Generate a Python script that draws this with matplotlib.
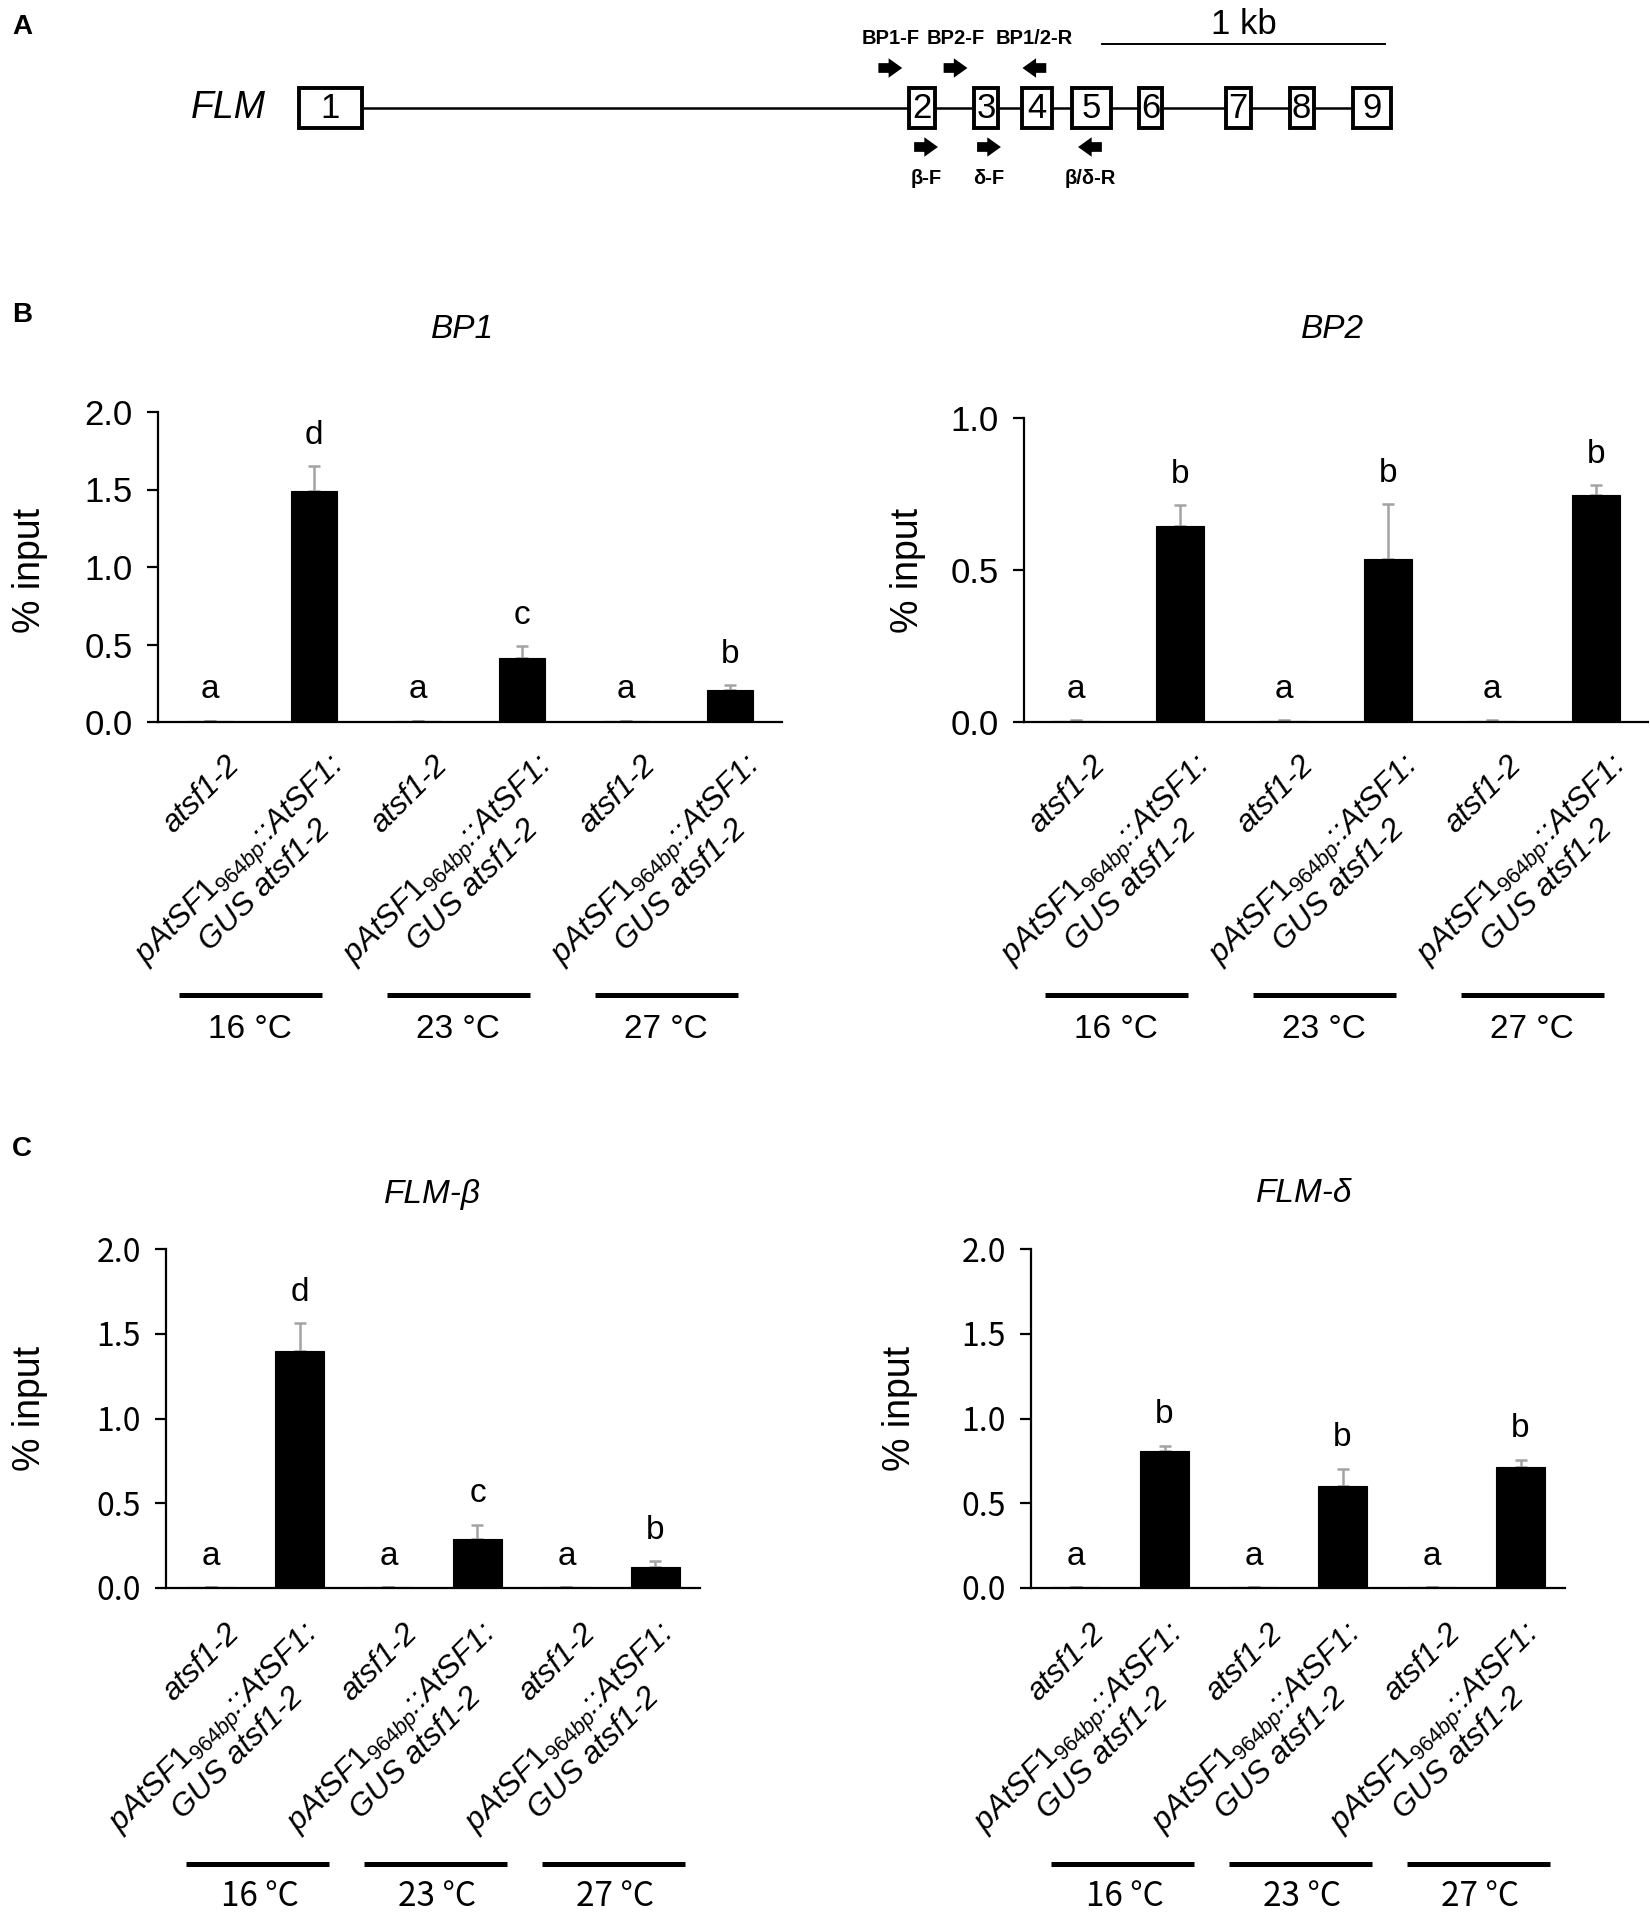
import numpy as np
import matplotlib
matplotlib.use('Agg')
import matplotlib.pyplot as plt
from matplotlib.patches import Rectangle
from matplotlib.transforms import offset_copy, blended_transform_factory

plt.rcParams['font.family'] = ['Liberation Sans', 'DejaVu Sans']
plt.rcParams['mathtext.fontset'] = 'custom'
plt.rcParams['mathtext.it'] = 'Liberation Sans:italic'
plt.rcParams['mathtext.rm'] = 'Liberation Sans'

# ---- data ----
# gene model (bp from start of exon 1)
exon_names = ['1', '2', '3', '4', '5', '6', '7', '8', '9']
exon_starts = [0, 2152, 2381, 2548, 2726, 2963, 3267, 3493, 3715]
exon_ends = [222, 2241, 2463, 2656, 2863, 3044, 3356, 3578, 3852]
top_primers = ['BP1-F', 'BP2-F', 'BP1/2-R']
top_primer_pos = [2085, 2315, 2593]
top_primer_dir = [1, 1, -1]
bottom_primers = ['β-F', 'δ-F', 'β/δ-R']
bottom_primer_pos = [2211, 2433, 2789]
bottom_primer_dir = [1, 1, -1]
scale_start = 2830
scale_len = 1000

# ChIP data
lines_single = 'atsf1-2'
lines_double = r'$\mathit{pAtSF1}_{\mathit{964bp}}$::AtSF1:' + '\n' + 'GUS atsf1-2'
genotypes = [lines_single, lines_double] * 3
temps = ['16 °C', '23 °C', '27 °C']

bp1_mean = [0.006, 1.488, 0.006, 0.410, 0.006, 0.205]
bp1_err = [0.003, 0.161, 0.003, 0.080, 0.003, 0.035]
bp1_letters = ['a', 'd', 'a', 'c', 'a', 'b']

bp2_mean = [0.004, 0.646, 0.004, 0.536, 0.004, 0.746]
bp2_err = [0.002, 0.068, 0.002, 0.180, 0.002, 0.034]
bp2_letters = ['a', 'b', 'a', 'b', 'a', 'b']

flmb_mean = [0.004, 1.400, 0.004, 0.292, 0.004, 0.121]
flmb_err = [0.002, 0.162, 0.002, 0.082, 0.002, 0.038]
flmb_letters = ['a', 'd', 'a', 'c', 'a', 'b']

flmd_mean = [0.003, 0.806, 0.003, 0.604, 0.003, 0.716]
flmd_err = [0.002, 0.034, 0.002, 0.100, 0.002, 0.041]
flmd_letters = ['a', 'b', 'a', 'b', 'a', 'b']

W, H = 1650, 1913
fig = plt.figure(figsize=(W / 100, H / 100), dpi=100)


def fx(px):
    return px / W


def fy(py):
    return 1 - py / H


def rect(left, top, right, bottom):
    return [fx(left), fy(bottom), (right - left) / W, (bottom - top) / H]


NARROW = ['Liberation Sans Narrow', 'Liberation Sans', 'DejaVu Sans']
KR = ['Noto Sans CJK KR', 'DejaVu Sans']

# ---- panel A: gene model ----
axA = fig.add_axes(rect(0, 0, W, 215))
px_per_bp = 283.6 / 1000
x0_px = 299
axA.set_xlim(-x0_px / px_per_bp, (W - x0_px) / px_per_bp)
axA.set_ylim(215, 0)
axA.axis('off')

axA.plot([exon_ends[0], exon_starts[-1]], [107.5, 107.5], color='black', lw=1.8, zorder=1)
for s, e, n in zip(exon_starts, exon_ends, exon_names):
    axA.add_patch(Rectangle((s, 88), e - s, 40, facecolor='white', edgecolor='black',
                            lw=2.8, zorder=2))
    axA.text((s + e) / 2, 108, n, ha='center', va='center', fontsize=25,
             family=NARROW, zorder=3)

axA.text(-250, 108, 'FLM', ha='center', va='center', fontsize=27, style='italic')
axA.plot([scale_start, scale_start + scale_len], [44, 44], color='black', lw=1.4)
axA.text(scale_start + 0.5 * scale_len, 24, '1 kb', ha='center', va='center', fontsize=25)

arrow_len = 84
for names, pos, dirs, ya, yl in [(top_primers, top_primer_pos, top_primer_dir, 68, 39),
                                 (bottom_primers, bottom_primer_pos, bottom_primer_dir, 147, 178)]:
    for n, p, d in zip(names, pos, dirs):
        axA.annotate('', xy=(p + d * arrow_len / 2, ya), xytext=(p - d * arrow_len / 2, ya),
                     arrowprops=dict(arrowstyle='simple,head_length=0.7,head_width=1.0,tail_width=0.5',
                                     fc='black', ec='none', mutation_scale=14,
                                     shrinkA=0, shrinkB=0))
        axA.text(p, yl, n, ha='center', va='center', fontsize=14.5, weight='bold')

# ---- panel letters ----
fig.text(fx(22), fy(27), 'A', ha='center', va='center', fontsize=20, weight='bold')
fig.text(fx(22), fy(315), 'B', ha='center', va='center', fontsize=20, weight='bold')
fig.text(fx(22), fy(1149), 'C', ha='center', va='center', fontsize=20, weight='bold')

# ---- bar panels ----
panels = [
    dict(box=(158, 412, 782, 722), mean=bp1_mean, err=bp1_err, letters=bp1_letters,
         ylim=2.0, ticks=[0.0, 0.5, 1.0, 1.5, 2.0], title='BP1', title_xy=(463, 330),
         ylab_xy=(30, 570), tick_font=['Liberation Sans'], tick_size=25,
         width=0.44, off1=(14, 28), off2=(14, 28), line_dx=-0.11, half=0.69,
         line_y=995, temp_dx=-0.12, temp_y=1029, temp_font=['Liberation Sans']),
    dict(box=(1024, 418, 1648, 722), mean=bp2_mean, err=bp2_err, letters=bp2_letters,
         ylim=1.0, ticks=[0.0, 0.5, 1.0], title='BP2', title_xy=(1333, 330),
         ylab_xy=(908, 570), tick_font=['Liberation Sans'], tick_size=25,
         width=0.47, off1=(14, 28), off2=(14, 28), line_dx=-0.11, half=0.69,
         line_y=995, temp_dx=-0.12, temp_y=1029, temp_font=['Liberation Sans']),
    dict(box=(166, 1249, 700, 1588), mean=flmb_mean, err=flmb_err, letters=flmb_letters,
         ylim=2.0, ticks=[0.0, 0.5, 1.0, 1.5, 2.0], title='FLM-β', title_xy=(432, 1194),
         ylab_xy=(30, 1408), tick_font=KR, tick_size=23,
         width=0.54, off1=(14, 30), off2=(2, 30), line_dx=0.03, half=0.80,
         line_y=1864, temp_dx=0.05, temp_y=1897, temp_font=KR),
    dict(box=(1031, 1249, 1565, 1588), mean=flmd_mean, err=flmd_err, letters=flmd_letters,
         ylim=2.0, ticks=[0.0, 0.5, 1.0, 1.5, 2.0], title='FLM-δ', title_xy=(1304, 1194),
         ylab_xy=(900, 1408), tick_font=KR, tick_size=23,
         width=0.55, off1=(14, 30), off2=(2, 30), line_dx=0.03, half=0.80,
         line_y=1864, temp_dx=0.05, temp_y=1897, temp_font=KR),
]

x = np.arange(len(genotypes))
for p in panels:
    ax = fig.add_axes(rect(*p['box']))
    ax.bar(x, p['mean'], width=p['width'], color='black', edgecolor='black', lw=0.8, zorder=3)
    ax.errorbar(x, p['mean'], yerr=[np.zeros(len(x)), p['err']], fmt='none',
                ecolor='#a3a3a3', elinewidth=1.8, capsize=4, capthick=1.8, zorder=2)
    ax.set_xlim(-0.5, len(x) - 0.5)
    ax.set_ylim(0, p['ylim'])
    ax.set_yticks(p['ticks'])
    ax.set_yticklabels([f'{t:.1f}' for t in p['ticks']], family=p['tick_font'],
                       fontsize=p['tick_size'])
    ax.set_xticks([])
    for side in ['top', 'right']:
        ax.spines[side].set_visible(False)
    for side in ['left', 'bottom']:
        ax.spines[side].set_linewidth(1.6)
    ax.tick_params(axis='y', direction='out', length=8, width=1.6, pad=10)

    for xi, m, e, l in zip(x, p['mean'], p['err'], p['letters']):
        ax.annotate(l, xy=(xi, m + e), xytext=(0, 11), textcoords='offset points',
                    ha='center', va='bottom', fontsize=24)

    base = ax.get_xaxis_transform()
    for xi, lab in zip(x, genotypes):
        dx, dy = p['off1'] if xi % 2 == 0 else p['off2']
        tr = offset_copy(base, fig=fig, x=dx, y=-dy, units='dots')
        ax.text(xi, 0, lab, transform=tr, rotation=45, rotation_mode='anchor',
                ha='right', va='top', multialignment='center', style='italic',
                fontsize=22.5, linespacing=1.0)

    blend = blended_transform_factory(ax.transData, fig.transFigure)
    for g, t in enumerate(temps):
        c = 2 * g + 0.5
        ax.plot([c + p['line_dx'] - p['half'], c + p['line_dx'] + p['half']],
                [fy(p['line_y'])] * 2, transform=blend, color='black', lw=3.6,
                solid_capstyle='butt', clip_on=False)
        ax.text(c + p['temp_dx'], fy(p['temp_y']), t, transform=blend, ha='center',
                va='center', fontsize=24, family=p['temp_font'])

    fig.text(fx(p['title_xy'][0]), fy(p['title_xy'][1]), p['title'], ha='center',
             va='center', fontsize=24, style='italic')
    fig.text(fx(p['ylab_xy'][0]), fy(p['ylab_xy'][1]), '% input', ha='center',
             va='center', rotation=90, fontsize=27)

fig.savefig('out.png', dpi=100)
